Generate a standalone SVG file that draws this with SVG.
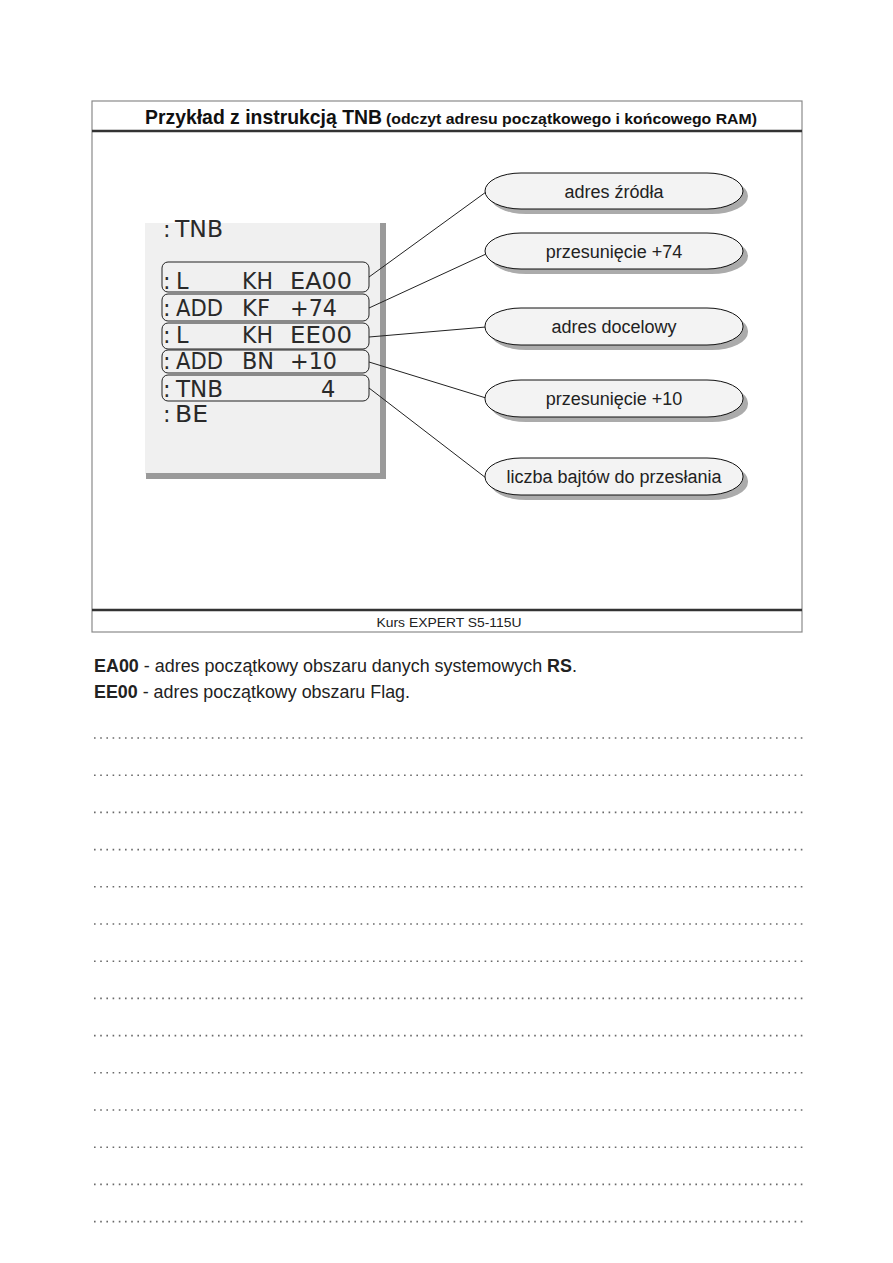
<svg xmlns="http://www.w3.org/2000/svg" width="893" height="1263" viewBox="0 0 893 1263">
<style>
.frame{fill:none;stroke:#8a8a8a;stroke-width:1.2}
.bar{stroke:#333;stroke-width:2.5}
.title{font-family:"Liberation Sans",Arial,sans-serif;font-weight:bold;fill:#111}
.code{font-family:"DejaVu Sans","Liberation Sans",sans-serif;font-size:22.5px;fill:#2a2a2a}
.cbox{fill:none;stroke:#222;stroke-width:1}
.pill{fill:#f3f3f3;stroke:#111;stroke-width:1}
.shadow{fill:#ababab}
.plabel{font-family:"Liberation Sans",Arial,sans-serif;font-size:18px;fill:#222;text-anchor:middle}
.conn{stroke:#222;stroke-width:1;fill:none}
.body{font-family:"Liberation Sans",Arial,sans-serif;font-size:17.5px;fill:#222}
.dots{stroke:#6a6a6a;stroke-width:1.6;stroke-dasharray:1.6 4.6}
</style>
<rect width="893" height="1263" fill="#ffffff"/>
<g id="frame">
<rect class="frame" x="92" y="101" width="710" height="531"/>
<line class="bar" x1="92" y1="131" x2="802" y2="131"/>
<line class="bar" x1="92" y1="610" x2="802" y2="610"/>
<text class="title" x="145" y="124" font-size="20.5" textLength="237" lengthAdjust="spacingAndGlyphs">Przykład z instrukcją TNB</text>
<text class="title" x="386" y="124" font-size="15.5" textLength="371" lengthAdjust="spacingAndGlyphs">(odczyt adresu początkowego i końcowego RAM)</text>
<text x="449" y="627" font-family="Liberation Sans,Arial,sans-serif" font-size="13" fill="#222" text-anchor="middle" textLength="145" lengthAdjust="spacingAndGlyphs">Kurs EXPERT S5-115U</text>
</g>
<g id="program">
<rect x="145" y="223" width="236" height="251" fill="#f0f0f0"/>
<rect x="380" y="223" width="6" height="256" fill="#9a9a9a"/>
<rect x="146" y="473" width="240" height="6" fill="#9a9a9a"/>
<text class="code" x="163" y="237">:</text>
<text class="code" x="175" y="237" textLength="48" lengthAdjust="spacingAndGlyphs">TNB</text>
<rect class="cbox" x="162" y="262" width="207" height="30" rx="6"/>
<rect class="cbox" x="162" y="294" width="207" height="27" rx="6"/>
<rect class="cbox" x="162" y="323" width="207" height="26" rx="6"/>
<rect class="cbox" x="162" y="350" width="207" height="23" rx="6"/>
<rect class="cbox" x="162" y="375" width="207" height="26" rx="6"/>
<text class="code" x="163" y="289">:</text>
<text class="code" x="176" y="289">L</text>
<text class="code" x="242" y="289" textLength="31" lengthAdjust="spacingAndGlyphs">KH</text>
<text class="code" x="290" y="289" textLength="62" lengthAdjust="spacingAndGlyphs">EA00</text>
<text class="code" x="163" y="316">:</text>
<text class="code" x="176" y="316" textLength="47" lengthAdjust="spacingAndGlyphs">ADD</text>
<text class="code" x="242" y="316" textLength="28" lengthAdjust="spacingAndGlyphs">KF</text>
<text class="code" x="290" y="316" textLength="47" lengthAdjust="spacingAndGlyphs">+74</text>
<text class="code" x="163" y="343">:</text>
<text class="code" x="176" y="343">L</text>
<text class="code" x="242" y="343" textLength="31" lengthAdjust="spacingAndGlyphs">KH</text>
<text class="code" x="290" y="343" textLength="62" lengthAdjust="spacingAndGlyphs">EE00</text>
<text class="code" x="163" y="369">:</text>
<text class="code" x="176" y="369" textLength="47" lengthAdjust="spacingAndGlyphs">ADD</text>
<text class="code" x="242" y="369" textLength="32" lengthAdjust="spacingAndGlyphs">BN</text>
<text class="code" x="290" y="369" textLength="47" lengthAdjust="spacingAndGlyphs">+10</text>
<text class="code" x="163" y="397">:</text>
<text class="code" x="176" y="397" textLength="47" lengthAdjust="spacingAndGlyphs">TNB</text>
<text class="code" x="321" y="397">4</text>
<text class="code" x="163" y="422">:</text>
<text class="code" x="175" y="422" textLength="33" lengthAdjust="spacingAndGlyphs">BE</text>
</g>
<g id="connectors">
<line class="conn" x1="369" y1="277" x2="486" y2="192"/>
<line class="conn" x1="369" y1="308" x2="486" y2="254"/>
<line class="conn" x1="369" y1="337" x2="486" y2="327"/>
<line class="conn" x1="369" y1="362" x2="486" y2="398"/>
<line class="conn" x1="369" y1="388" x2="486" y2="478"/>
</g>
<g id="n1">
<rect class="shadow" x="490" y="178" width="258" height="36" rx="36" ry="18"/>
<rect class="pill" x="485" y="173" width="258" height="36" rx="36" ry="18"/>
<text class="plabel" x="614" y="198">adres źródła</text>
</g>
<g id="n2">
<rect class="shadow" x="490" y="238" width="258" height="36" rx="36" ry="18"/>
<rect class="pill" x="485" y="233" width="258" height="36" rx="36" ry="18"/>
<text class="plabel" x="614" y="258">przesunięcie +74</text>
</g>
<g id="n3">
<rect class="shadow" x="490" y="313" width="258" height="37" rx="36" ry="18"/>
<rect class="pill" x="485" y="308" width="258" height="37" rx="36" ry="18"/>
<text class="plabel" x="614" y="333">adres docelowy</text>
</g>
<g id="n4">
<rect class="shadow" x="490" y="385" width="258" height="37" rx="36" ry="18"/>
<rect class="pill" x="485" y="380" width="258" height="37" rx="36" ry="18"/>
<text class="plabel" x="614" y="405">przesunięcie +10</text>
</g>
<g id="n5">
<rect class="shadow" x="490" y="463" width="258" height="37" rx="36" ry="18"/>
<rect class="pill" x="485" y="458" width="258" height="37" rx="36" ry="18"/>
<text class="plabel" x="614" y="483">liczba bajtów do przesłania</text>
</g>
<g id="notes">
<text class="body" x="94" y="672" textLength="483" lengthAdjust="spacingAndGlyphs"><tspan font-weight="bold">EA00</tspan> - adres początkowy obszaru danych systemowych <tspan font-weight="bold">RS</tspan>.</text>
<text class="body" x="94" y="698" textLength="316" lengthAdjust="spacingAndGlyphs"><tspan font-weight="bold">EE00</tspan> - adres początkowy obszaru Flag.</text>
</g>
<g id="ruled-lines">
<line class="dots" x1="94" y1="738" x2="806" y2="738"/>
<line class="dots" x1="94" y1="775.2" x2="806" y2="775.2"/>
<line class="dots" x1="94" y1="812.4" x2="806" y2="812.4"/>
<line class="dots" x1="94" y1="849.6" x2="806" y2="849.6"/>
<line class="dots" x1="94" y1="886.8" x2="806" y2="886.8"/>
<line class="dots" x1="94" y1="924" x2="806" y2="924"/>
<line class="dots" x1="94" y1="961.2" x2="806" y2="961.2"/>
<line class="dots" x1="94" y1="998.4" x2="806" y2="998.4"/>
<line class="dots" x1="94" y1="1035.6" x2="806" y2="1035.6"/>
<line class="dots" x1="94" y1="1072.8" x2="806" y2="1072.8"/>
<line class="dots" x1="94" y1="1110" x2="806" y2="1110"/>
<line class="dots" x1="94" y1="1147.2" x2="806" y2="1147.2"/>
<line class="dots" x1="94" y1="1184.4" x2="806" y2="1184.4"/>
<line class="dots" x1="94" y1="1221.6" x2="806" y2="1221.6"/>
</g>
</svg>
